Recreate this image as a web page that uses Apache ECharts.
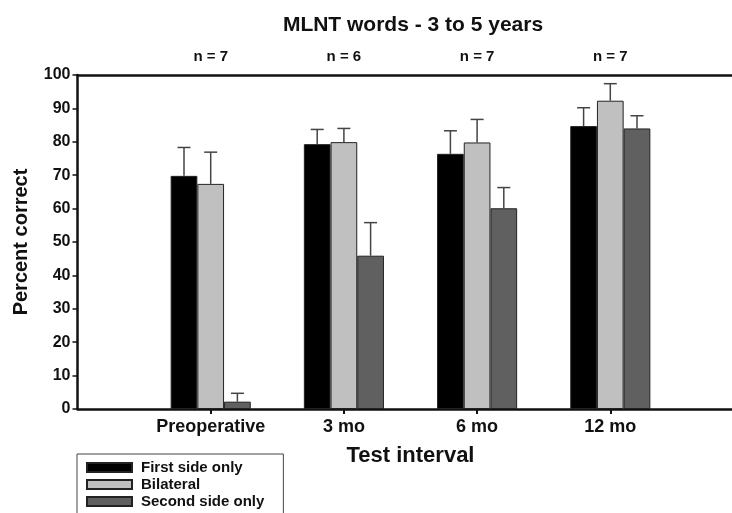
<!DOCTYPE html>
<html>
<head>
<meta charset="utf-8">
<script src="https://cdn.jsdelivr.net/npm/echarts@6/dist/echarts.min.js"></script>
<style>html,body{margin:0;padding:0;background:#fff}#c{width:732px;height:513px}</style>
</head>
<body>
<div id="c"></div>
<script>
// ---- data ----
var categories = ['Preoperative', '3 mo', '6 mo', '12 mo'];
var nLabels = ['n = 7', 'n = 6', 'n = 7', 'n = 7'];
var seriesNames = ['First side only', 'Bilateral', 'Second side only'];
var firstSide = [69.8, 79.3, 76.4, 84.7];
var firstSideErr = [8.5, 4.4, 6.9, 5.5];
var bilateral = [67.4, 79.9, 79.8, 92.3];
var bilateralErr = [9.5, 4.1, 6.9, 5.1];
var secondSide = [2.2, 45.9, 60.1, 84.0];
var secondSideErr = [2.5, 9.9, 6.2, 3.8];
var yTicks = [0, 10, 20, 30, 40, 50, 60, 70, 80, 90, 100];

// ---- build ----
var FONT = '"Liberation Sans", Arial, sans-serif';
var colors = ['#000000', '#c0c0c0', '#606060'];
var BAR_W = 26.7;
var axisCats = [''].concat(categories, ['']);
var topCats = [''].concat(nLabels, ['']);
function pad(a) { return [null].concat(a, [null]); }
var means = [firstSide, bilateral, secondSide];
var errs = [firstSideErr, bilateralErr, secondSideErr];

var series = [];
means.forEach(function (m, k) {
  series.push({
    name: seriesNames[k], type: 'bar', data: pad(m), barWidth: BAR_W, barGap: '0%',
    itemStyle: { color: colors[k], borderColor: '#222', borderWidth: 1 },
    emphasis: { disabled: true }, animation: false, z: 2
  });
});
means.forEach(function (m, k) {
  var d = m.map(function (v, i) { return [i + 1, v, errs[k][i]]; });
  series.push({
    type: 'custom', name: 'err' + k, data: d, z: 5, animation: false, silent: true,
    encode: { x: 0, y: 1 },
    renderItem: function (params, api) {
      var base = api.coord([api.value(0), api.value(1)]);
      var top = api.coord([api.value(0), api.value(1) + api.value(2)]);
      var x = base[0] + (k - 1) * BAR_W;
      return {
        type: 'group', children: [
          { type: 'line', shape: { x1: x, y1: base[1], x2: x, y2: top[1] }, style: { stroke: '#444', lineWidth: 1.5 } },
          { type: 'line', shape: { x1: x - 6.5, y1: top[1], x2: x + 6.5, y2: top[1] }, style: { stroke: '#444', lineWidth: 1.5 } }
        ]
      };
    }
  });
});

var chart = echarts.init(document.getElementById('c'), null, { renderer: 'canvas' });
chart.setOption({
  animation: false,
  backgroundColor: '#fff',
  title: {
    text: 'MLNT words - 3 to 5 years', left: 408, top: 10, textAlign: 'center',
    textStyle: { fontFamily: FONT, fontWeight: 'bold', fontSize: 21, color: '#111' }
  },
  legend: {
    data: seriesNames, orient: 'vertical', left: 77, top: 454, height: 80,
    padding: [6, 19, 10, 9], itemWidth: 45, itemHeight: 9, itemGap: 2,
    icon: 'rect',
    borderColor: '#444', borderWidth: 1, backgroundColor: '#fff',
    selectedMode: false,
    textStyle: { fontFamily: FONT, fontWeight: 'bold', fontSize: 15, color: '#111', lineHeight: 15, padding: [0, 0, 0, 4] }
  },
  grid: { left: 77.5, right: -11.5, top: 75, bottom: 104, containLabel: false, outerBoundsMode: 'none' },
  xAxis: [{
    type: 'category', data: axisCats, boundaryGap: false, position: 'bottom',
    name: 'Test interval', nameLocation: 'middle', nameGap: 36,
    nameTextStyle: { fontFamily: FONT, fontWeight: 'bold', fontSize: 22, color: '#111' },
    axisLine: { lineStyle: { color: '#111', width: 2.5 } },
    axisTick: { show: true, length: 5, lineStyle: { color: '#111', width: 2 }, interval: function (i) { return i > 0 && i < 5; } },
    axisLabel: { margin: 9, fontFamily: FONT, fontWeight: 'bold', fontSize: 18, color: '#111', interval: 0 },
    splitLine: { show: false }
  }, {
    type: 'category', data: topCats, boundaryGap: false, position: 'top',
    axisLine: { lineStyle: { color: '#111', width: 2.5 } },
    axisTick: { show: false },
    axisLabel: { margin: 11, fontFamily: FONT, fontWeight: 'bold', fontSize: 15, color: '#111', interval: 0 },
    splitLine: { show: false }
  }],
  yAxis: {
    type: 'value', min: yTicks[0], max: yTicks[yTicks.length - 1], interval: 10,
    name: 'Percent correct', nameLocation: 'middle', nameGap: 46, nameRotate: 90,
    nameTextStyle: { fontFamily: FONT, fontWeight: 'bold', fontSize: 20, color: '#111' },
    axisLine: { show: true, lineStyle: { color: '#111', width: 2.5 } },
    axisTick: { show: true, length: 5, lineStyle: { color: '#111', width: 1.5 } },
    axisLabel: { margin: 7, fontFamily: FONT, fontWeight: 'bold', fontSize: 16, color: '#111' },
    splitLine: { show: false }
  },
  series: series
});
</script>
</body>
</html>
